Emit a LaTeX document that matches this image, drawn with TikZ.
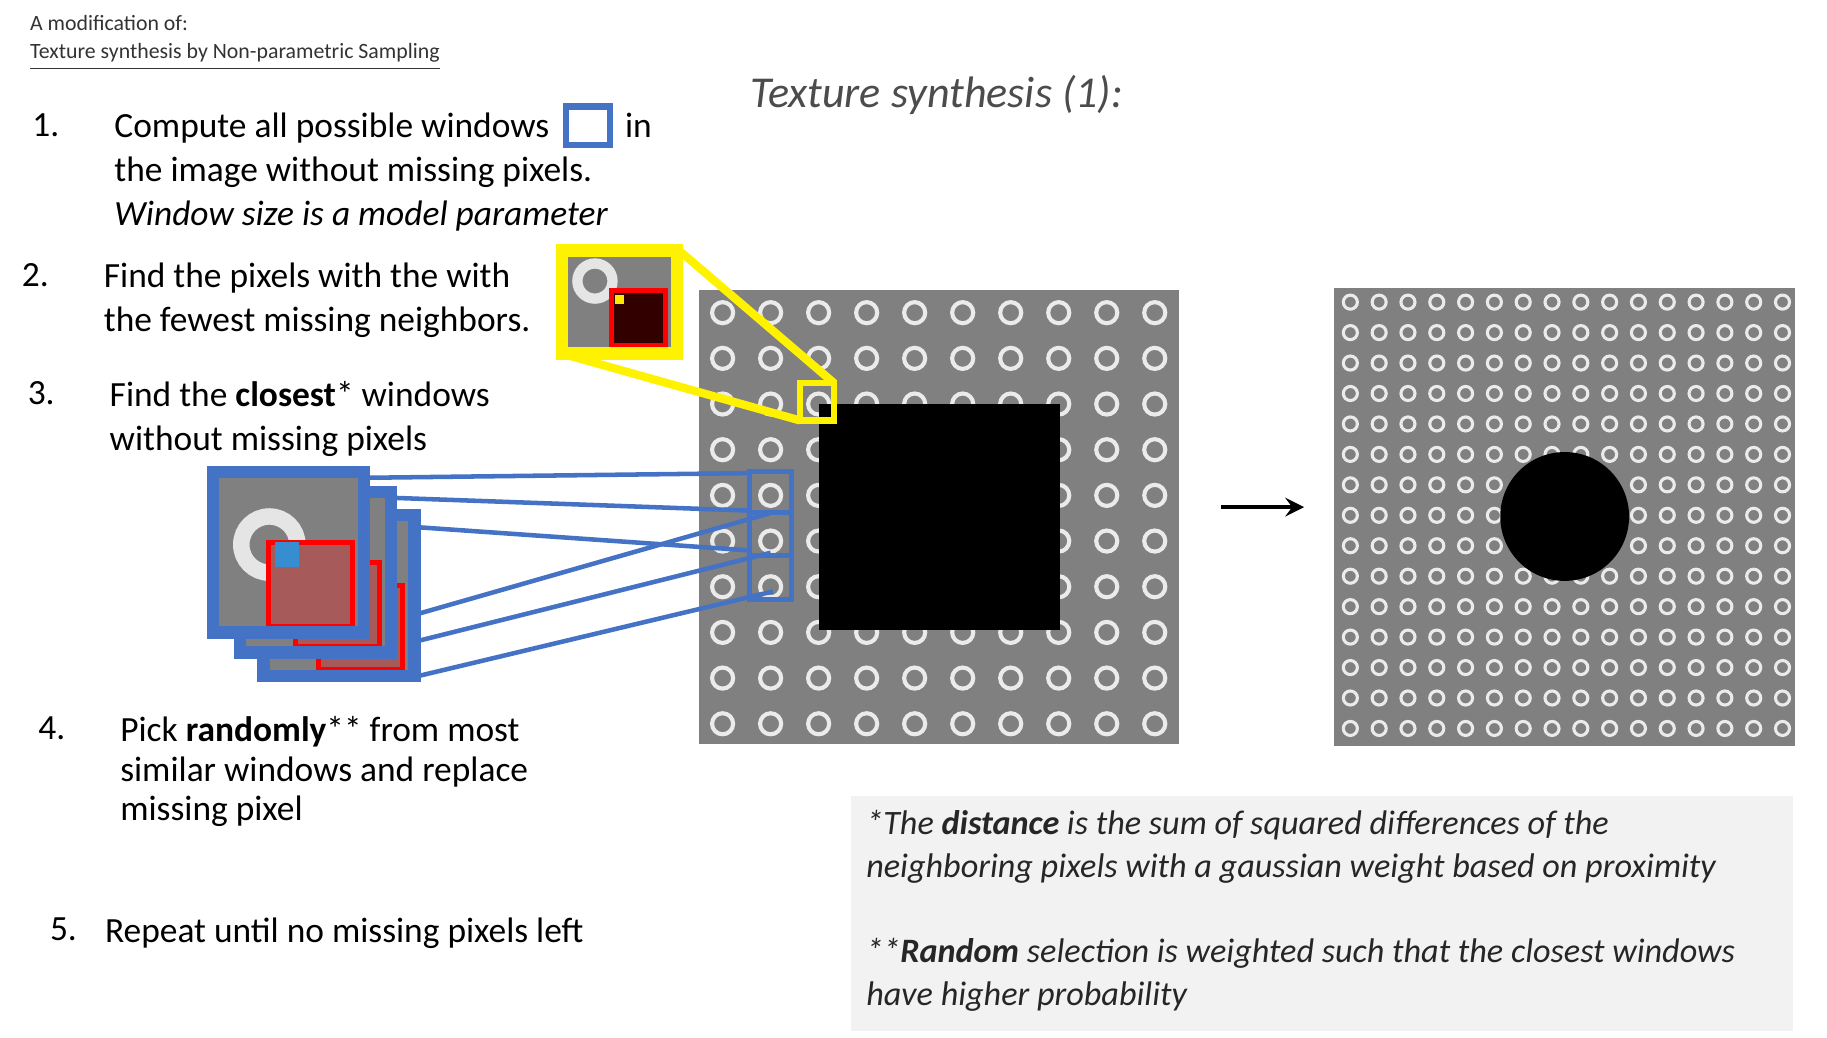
\documentclass[tikz,border=0pt]{standalone}
\usepackage{fontspec}
\setmainfont{Carlito}
\usetikzlibrary{positioning}
\definecolor{winblue}{RGB}{68,114,196}
\definecolor{texgray}{RGB}{128,128,128}
\definecolor{notegray}{RGB}{242,242,242}
\tikzset{
  txt/.style={anchor=north west, inner sep=0pt, font=\fontsize{8.6}{10.6}\selectfont, align=left},
  num/.style={anchor=north west, inner sep=0pt, font=\fontsize{8.6}{10.6}\selectfont},
  ring/.style={draw=white!92!black, line width=1pt},
  bluebox/.style={draw=winblue, line width=1.2pt},
  blueline/.style={draw=winblue, line width=1.1pt},
  yelline/.style={draw=yellow, line width=1.1pt}
}
\begin{document}
\begin{tikzpicture}[x=0.01cm, y=-0.01cm]
\useasboundingbox (0,0) rectangle (1560,886);

% header
\node[txt, font=\fontsize{5.3}{7}\selectfont, text=black!80] (hdr) at (25,12)
  {A modification of:\\\underline{Texture synthesis by Non-parametric Sampling}};
\node[anchor=north west, inner sep=0pt, font=\fontsize{10.7}{12}\selectfont\itshape, text=black!70] (title) at (640,64) {Texture synthesis (1):};

% steps
\node[num] (n1) at (27,96) {1.};
\node[txt] (s1) at (97,96) {Compute all possible windows\\the image without missing pixels.\\\textit{Window size is a model parameter}};
\draw[bluebox, line width=1.5pt] (483,91) rectangle (521,124);
\node[num] (s1b) at (533,96) {in};
\node[num] (n2) at (18,224) {2.};
\node[txt] (s2) at (88,224) {Find the pixels with the with\\the fewest missing neighbors.};
\node[num] (n3) at (23,325) {3.};
\node[txt] (s3) at (93,325) {Find the \textbf{closest}* windows\\without missing pixels};
\node[num] (n4) at (32,611) {4.};
\node[txt, font=\fontsize{8.6}{9.6}\selectfont] (s4) at (102,611) {Pick \textbf{randomly}** from most\\similar windows and replace\\missing pixel};
\node[num] (n5) at (42,783) {5.};
\node[txt] (s5) at (89,783) {Repeat until no missing pixels left};

% left texture with hole
\fill[texgray] (597,248) rectangle (1007,635);
\foreach \i in {0,...,9}
  \foreach \j in {0,...,9}
    \draw[ring] ({617+41*\i},{267+39*\j}) circle (9);
\fill[black] (699,345) rectangle (905,538);
\draw[yelline, line width=1.5pt] (683,327) rectangle (712,359);
\foreach \k/\a/\b in {1/403/438, 2/438/474, 3/474/512}
  \draw[bluebox] (640,\a) rectangle (676,\b);

% arrow
\node[inner sep=0pt] (src) at (1040,433) {};
\node[inner sep=0pt] (dst) at (1116,433) {};
\draw[-stealth, line width=1pt] (src) -- (dst);

% right texture, filled
\fill[texgray] (1139,246) rectangle (1533,637);
\foreach \i in {0,...,15}
  \foreach \j in {0,...,14}
    \draw[ring, line width=0.75pt] ({1153+24.6*\i},{258+26*\j}) circle (6);
\fill[black] (1336,441) circle (55);

% zoomed inset
\fill[texgray] (480,214) rectangle (578,302);
\draw[white!90!black, line width=2.5pt] (508,240) circle (15);
\fill[black!80!red] (522,248) rectangle (568,295);
\draw[red, line width=1.3pt] (522,248) rectangle (568,295);
\fill[yellow!90!orange] (525,252) rectangle (533,260);
\draw[yelline, line width=3pt] (480,214) rectangle (578,302);
\coordinate (insTR) at (580,214);
\coordinate (insBL) at (480,302);
\coordinate (patTR) at (712,327);
\coordinate (patBL) at (683,359);
\draw[yelline, line width=2pt] (insTR) -- (patTR);
\draw[yelline, line width=2pt] (insBL) -- (patBL);

% stacked candidate windows
\foreach \x/\y in {225/440, 205/420, 182/403}{
  \fill[texgray] (\x,\y) rectangle ++(129,137);
  \draw[white!90!black, line width=4pt] ({\x+48},{\y+62}) circle (24);
  \fill[red!30!texgray] ({\x+47},{\y+60}) rectangle ++(72,72);
  \draw[red, line width=1.2pt] ({\x+47},{\y+60}) rectangle ++(72,72);
  \draw[bluebox, line width=3pt] (\x,\y) rectangle ++(129,137);
}
\fill[winblue!80!cyan] (235,463) rectangle (255,484);

\coordinate (wA) at (311,408); \coordinate (wB) at (333,425); \coordinate (wC) at (354,450);
\coordinate (wD) at (354,525); \coordinate (wE) at (354,548); \coordinate (wF) at (354,578);
\coordinate (bA) at (640,404); \coordinate (bB) at (640,436); \coordinate (bC) at (640,470);
\coordinate (bD) at (658,438); \coordinate (bE) at (658,472); \coordinate (bF) at (660,505);
\foreach \p/\q in {wA/bA, wB/bB, wC/bC, wD/bD, wE/bE, wF/bF}
  \draw[blueline] (\p) -- (\q);

% note box
\fill[notegray] (727,680) rectangle (1531,880);
\node[txt, font=\fontsize{8.3}{10.4}\selectfont\itshape, text=black!85] (note) at (739,691)
  {*The \textbf{distance} is the sum of squared differences of the\\neighboring pixels with a gaussian weight based on proximity\\[10.4pt]**\textbf{Random} selection is weighted such that the closest windows\\have higher probability};
\end{tikzpicture}
\end{document}
